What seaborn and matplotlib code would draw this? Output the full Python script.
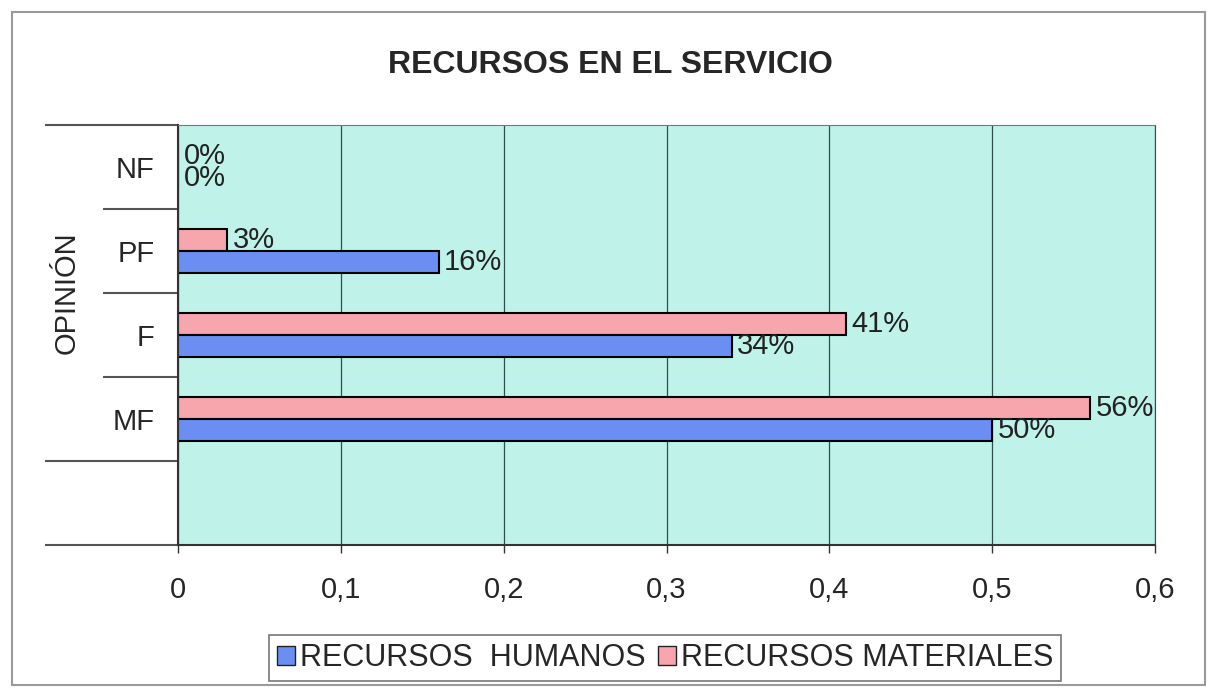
import seaborn as sns
import matplotlib.pyplot as plt
import pandas as pd
from matplotlib.patches import Rectangle, Patch
from matplotlib.ticker import FixedLocator

# data
opinion = ['NF', 'PF', 'F', 'MF']
humanos = [0.0, 0.16, 0.34, 0.50]
materiales = [0.0, 0.03, 0.41, 0.56]
x_ticks = [0, 0.1, 0.2, 0.3, 0.4, 0.5, 0.6]
x_tick_labels = ['0', '0,1', '0,2', '0,3', '0,4', '0,5', '0,6']

serie_h = 'RECURSOS  HUMANOS'
serie_m = 'RECURSOS MATERIALES'
colors = {serie_h: '#6a8ef2', serie_m: '#f7a6ae'}

df = pd.DataFrame({
    'opinion': opinion * 2,
    'valor': humanos + materiales,
    'serie': [serie_h] * len(opinion) + [serie_m] * len(opinion),
})

sns.set_style('white')
plt.rcParams['font.family'] = ['Liberation Sans', 'DejaVu Sans']

fig = plt.figure(figsize=(12.07, 6.89), dpi=100)
ax = fig.add_axes([0.1475, 0.209, 0.8095, 0.6096])
ax.set_facecolor('#bff3ea')

# outer frame of the chart
fig.patches.append(Rectangle((0.01, 0.006), 0.988, 0.977, transform=fig.transFigure,
                             fill=False, edgecolor='#9a9a9a', linewidth=1.5))

sns.barplot(data=df, y='opinion', x='valor', hue='serie', order=opinion,
            hue_order=[serie_m, serie_h], palette=colors, orient='h', saturation=1,
            width=0.53, edgecolor='black', linewidth=1.5, legend=False, ax=ax)

for cont in ax.containers:
    ax.bar_label(cont, fmt=lambda v: f'{v:.0%}', padding=4, fontsize=21, color='#222222')

ax.set_xlim(0, 0.6)
ax.set_ylim(4.5, -0.5)
ax.set_xticks(x_ticks)
ax.set_xticklabels(x_tick_labels, fontsize=21)
ax.tick_params(axis='x', length=6, width=1, color='#333333', pad=16, bottom=True)
ax.xaxis.grid(True, color='#2f4f4f', linewidth=0.9)
ax.set_axisbelow(True)

# category separators: long ticks at the outer edges, short ones between labels
ax.yaxis.set_major_locator(FixedLocator([-0.5, 3.5, 4.5]))
ax.yaxis.set_minor_locator(FixedLocator([0.5, 1.5, 2.5]))
ax.set_yticklabels([''] * 3)
ax.tick_params(axis='y', which='major', length=96, width=1.5, color='#555555', left=True)
ax.tick_params(axis='y', which='minor', length=54, width=1.5, color='#555555', left=True)

# category labels on the slot centres
lab = ax.secondary_yaxis('left')
lab.set_yticks(range(len(opinion)), opinion)
lab.tick_params(length=0, pad=17, labelsize=21)
lab.spines['left'].set_visible(False)

ax.set_xlabel('')
ax.set_ylabel('OPINIÓN', fontsize=21)
ax.yaxis.set_label_coords(-0.10, 0.60)

for side in ['left', 'bottom']:
    ax.spines[side].set_color('#333333')
    ax.spines[side].set_linewidth(1.5)
ax.spines['top'].set_color('#777777')
ax.spines['right'].set_color('#2f4f4f')

fig.text(0.506, 0.906, 'RECURSOS EN EL SERVICIO', ha='center', va='center',
         fontsize=23, fontweight='bold')

handles = [Patch(facecolor=colors[serie_h], edgecolor='#222222'),
           Patch(facecolor=colors[serie_m], edgecolor='#222222')]
leg = fig.legend(handles, [serie_h, serie_m], loc='center', bbox_to_anchor=(0.551, 0.045),
                 ncol=2, fontsize=22, frameon=True, fancybox=False, handlelength=0.6,
                 handleheight=0.6, handletextpad=0.15, columnspacing=0.4, borderpad=0.25)
leg.get_frame().set_edgecolor('#555555')
leg.get_frame().set_linewidth(1.2)

fig.savefig('out.png', dpi=100)
